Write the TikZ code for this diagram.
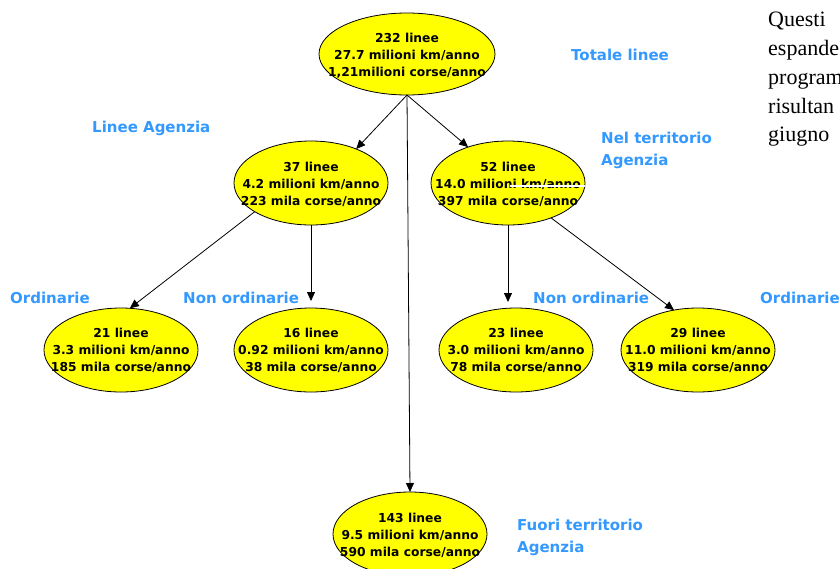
\documentclass[tikz,border=0pt]{standalone}
\usepackage{fontspec}
\usetikzlibrary{shapes.geometric,arrows.meta}
\newfontfamily\dvsans{DejaVu Sans}
\newfontfamily\timesrm{Liberation Serif}
\definecolor{bubbleyellow}{HTML}{FFFF00}
\definecolor{labelblue}{HTML}{3399FF}
\tikzset{
  bubble/.style={ellipse, draw=black, line width=0.8pt, fill=bubbleyellow,
    minimum width=154pt, minimum height=84pt, inner sep=0pt, outer sep=0pt},
  bubbletext/.style={align=center, inner sep=0pt,
    font=\dvsans\bfseries\fontsize{12.3}{17}\selectfont},
  group/.style={text=labelblue, inner sep=0pt, align=left,
    font=\dvsans\bfseries\fontsize{15}{22}\selectfont},
  link/.style={draw=black, line width=0.8pt, -{Triangle[length=9pt,width=8pt]}},
  prose/.style={inner sep=0pt, anchor=base west,
    font=\timesrm\fontsize{22}{29}\selectfont}
}
\begin{document}
\begin{tikzpicture}[x=1pt,y=-1pt]
\useasboundingbox (0,0) rectangle (840,568);
\fill[white] (0,0) rectangle (840,568);

% ellipses of the tree
\node[bubble, minimum width=176pt, minimum height=82pt] (tot) at (407,54) {};
\node[bubble] (ag)  at (311,183) {};
\node[bubble] (nt)  at (508,183) {};
\node[bubble] (ago) at (121,350) {};
\node[bubble] (agn) at (311,350) {};
\node[bubble] (ntn) at (516,350) {};
\node[bubble] (nto) at (698,350) {};
\node[bubble] (ft)  at (410,534) {};

% figures inside the ellipses
\node[bubbletext] (ttot) at (407,56) {232 linee\\27.7 milioni km/anno\\1,21milioni corse/anno};
\node[bubbletext] (tag)  at (311,184) {37 linee\\4.2 milioni km/anno\\223 mila corse/anno};
\node[bubbletext] (tnt)  at (508,184) {52 linee\\14.0 milioni km/anno\\397 mila corse/anno};
\node[bubbletext] (tago) at (121,350) {21 linee\\3.3 milioni km/anno\\185 mila corse/anno};
\node[bubbletext] (tagn) at (311,350) {16 linee\\0.92 milioni km/anno\\38 mila corse/anno};
\node[bubbletext] (tntn) at (516,350) {23 linee\\3.0 milioni km/anno\\78 mila corse/anno};
\node[bubbletext] (tnto) at (698,350) {29 linee\\11.0 milioni km/anno\\319 mila corse/anno};
\node[bubbletext] (tft)  at (410,535) {143 linee\\9.5 milioni km/anno\\590 mila corse/anno};

% white stroke across the 52-line figures
\draw[white, line width=2pt] (510,186) -- (585,186);

% connectors
\draw[link] (tot.south) -- (ag.37);
\draw[link] (tot.south) -- (nt.138);
\draw[link] (tot.south) -- (ft.north);
\draw[link] (ag.207) -- (ago.78);
\draw[link, shorten >=7pt] (ag.south) -- (agn.north);
\draw[link, shorten >=6pt] (nt.south) -- (nt.south |- ntn.north);
\draw[link] (nt.-39) -- (nto.121);

% group captions
\node[group, anchor=west] (ltot) at (571,55) {Totale linee};
\node[group, anchor=west] (lag)  at (92,128) {Linee Agenzia};
\node[group, anchor=west] (lnt)  at (601,150) {Nel territorio\\Agenzia};
\node[group, anchor=west] (lago) at (10,298) {Ordinarie};
\node[group, anchor=west] (lagn) at (183,298) {Non ordinarie};
\node[group, anchor=west] (lntn) at (533,298) {Non ordinarie};
\node[group, anchor=west] (lnto) at (760,298) {Ordinarie};
\node[group, anchor=west] (lft)  at (517,537) {Fuori territorio\\Agenzia};

% running text on the right, cut at the page edge
\begin{scope}
\clip (0,0) rectangle (840,568);
\node[prose] (p1) at (768,26)  {Questi};
\node[prose] (p2) at (768,55)  {espande};
\node[prose] (p3) at (768,84)  {program};
\node[prose] (p4) at (768,113) {risultan};
\node[prose] (p5) at (768,141) {giugno};
\end{scope}
\end{tikzpicture}
\end{document}
